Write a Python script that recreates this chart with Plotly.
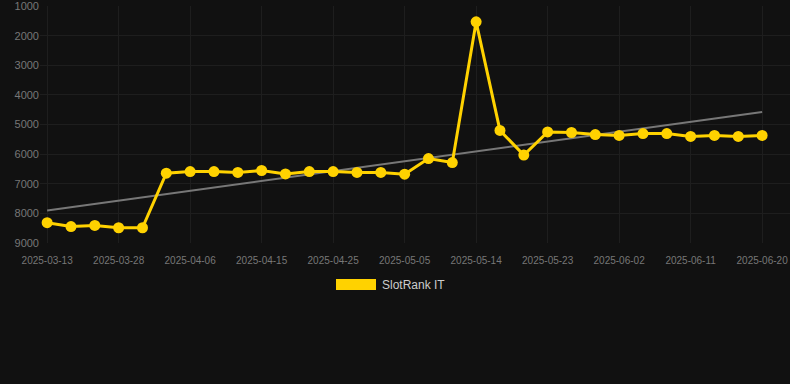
import numpy as np
import plotly.graph_objects as go

dates = ["2025-03-13", "2025-03-18", "2025-03-23", "2025-03-28", "2025-03-31", "2025-04-03",
         "2025-04-06", "2025-04-09", "2025-04-12", "2025-04-15", "2025-04-18", "2025-04-22",
         "2025-04-25", "2025-04-28", "2025-05-02", "2025-05-05", "2025-05-08", "2025-05-11",
         "2025-05-14", "2025-05-17", "2025-05-20", "2025-05-23", "2025-05-26", "2025-05-30",
         "2025-06-02", "2025-06-05", "2025-06-08", "2025-06-11", "2025-06-14", "2025-06-17",
         "2025-06-20"]
rank = [8320, 8450, 8410, 8490, 8490, 6645, 6590, 6590, 6620, 6555, 6670, 6590,
        6590, 6620, 6620, 6680, 6150, 6285, 1530, 5200, 6035, 5250, 5270, 5340,
        5370, 5305, 5305, 5405, 5370, 5405, 5370]
tick_labels = dates[::3]
y_ticks = [1000, 2000, 3000, 4000, 5000, 6000, 7000, 8000, 9000]
series_name = "SlotRank IT"

idx = np.arange(len(rank))
slope, intercept = np.polyfit(idx, rank, 1)
trend = slope * idx + intercept

fig = go.Figure()
fig.add_trace(go.Scatter(x=dates, y=trend, mode="lines",
                         line=dict(color="#777777", width=2), showlegend=False,
                         hoverinfo="skip"))
fig.add_trace(go.Scatter(x=dates, y=rank, mode="lines+markers", name=series_name,
                         line=dict(color="#FFD200", width=3),
                         marker=dict(color="#FFD200", size=11), showlegend=False))

fig.add_shape(type="rect", xref="paper", yref="paper",
              x0=(336 - 40) / 750, x1=(376 - 40) / 750,
              y0=(243 - 290) / 237, y1=(243 - 279) / 237,
              fillcolor="#FFD200", line=dict(width=0))
fig.add_annotation(text=series_name, xref="paper", yref="paper",
                   x=(380 - 40) / 750, y=(243 - 285) / 237, xanchor="left", yanchor="middle",
                   showarrow=False, font=dict(color="#cccccc", size=12,
                                              family="Liberation Sans, Arial, sans-serif"))

fig.update_layout(
    width=790, height=384,
    margin=dict(l=40, r=0, t=6, b=141),
    paper_bgcolor="#111111", plot_bgcolor="#111111",
    font=dict(family="Liberation Sans, Arial, sans-serif", color="#888888", size=11),
    xaxis=dict(type="category", categoryorder="array", categoryarray=dates,
               range=[-0.3, 31.17], tickmode="array", tickvals=tick_labels,
               ticktext=tick_labels, showgrid=True, gridcolor="#1e1e1e",
               zeroline=False, showline=False, ticks="outside", ticklen=8,
               tickcolor="rgba(0,0,0,0)", tickfont=dict(size=10, color="#777777")),
    yaxis=dict(range=[9005, 995], tickvals=y_ticks, showgrid=True, gridcolor="#1e1e1e",
               zeroline=False, showline=False, ticks="", tickfont=dict(size=11, color="#777777")),
)

fig.write_html("out.html", config={"displayModeBar": False},
               post_script="document.body.style.margin='0';document.body.style.background='#111111';")
